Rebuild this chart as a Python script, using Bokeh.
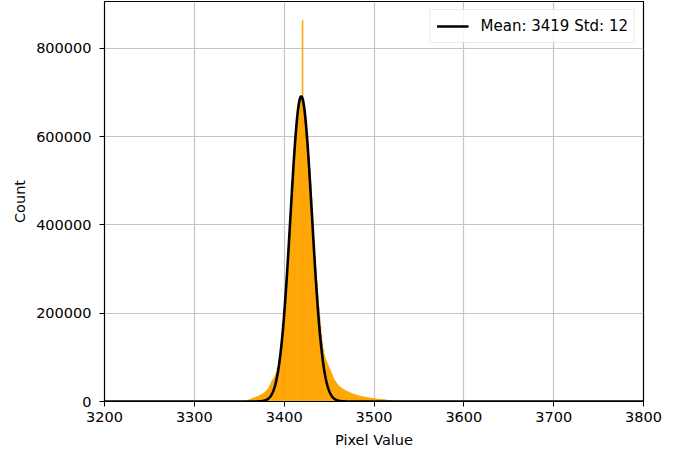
import numpy as np
from bokeh.plotting import figure
from bokeh.models import Range1d, FixedTicker, BasicTickFormatter, Legend, LegendItem, ColumnDataSource
from bokeh.embed import file_html
from bokeh.resources import INLINE

# Histogram (integer pixel-value bins, starting at bin_start)
bin_start = 3354
counts = [
    200, 400, 800, 1300, 1900, 2600, 3400, 4200, 5000, 5800,          # 3354-3363
    6600, 7400, 8200, 9000, 9800, 10600, 11400, 12200, 13000, 14000,  # 3364-3373
    15000, 16200, 17500, 19000, 20700, 22500, 24500, 27000, 30000, 34000,  # 3374-3383
    38000, 42000, 46000, 49000, 52000, 56000, 61000, 67000, 75000, 84000,  # 3384-3393
    95000, 108000, 123000, 140000, 159000, 180000, 203000, 228000, 256000, 285000,  # 3394-3403
    316000, 349000, 383000, 417000, 452000, 486000, 519000, 551000, 580000, 607000,  # 3404-3413
    631000, 651000, 667000, 679000, 686000, 691000, 863000, 683000, 671000, 656000,  # 3414-3423
    636000, 613000, 587000, 558000, 527000, 495000, 462000, 428000, 394000, 361000,  # 3424-3433
    329000, 298000, 269000, 241000, 215000, 192000, 170000, 151000, 134000, 119000,  # 3434-3443
    107000, 100000, 94000, 89000, 84000, 79000, 75000, 70000, 65000, 60000,  # 3444-3453
    55000, 50000, 47000, 44000, 41000, 38500, 36000, 34000, 32000, 30500,  # 3454-3463
    29000, 27800, 26600, 25500, 24400, 23400, 22400, 21400, 20500, 19600,  # 3464-3473
    18800, 18000, 17200, 16500, 15800, 15100, 14500, 13900, 13300, 12800,  # 3474-3483
    12300, 11800, 11300, 10800, 10400, 10000, 9600, 9200, 8800, 8400,  # 3484-3493
    8100, 7800, 7500, 7200, 6900, 6600, 6300, 6100, 5800, 5600,  # 3494-3503
    5400, 5200, 5000, 4800, 4600, 4400, 4200, 4000, 3700, 3400,  # 3504-3513
    3100, 2800, 2500, 2200, 1900, 1600, 1300, 1000, 800, 600,  # 3514-3523
    450, 300, 200, 100,  # 3524-3527
]

# Gaussian fit parameters (from legend) and fitted peak height
fit_mean = 3419
fit_std = 12
fit_peak = 691000

x_ticks = [3200, 3300, 3400, 3500, 3600, 3700, 3800]
y_ticks = [0, 200000, 400000, 600000, 800000]

left = np.arange(bin_start, bin_start + len(counts))
src = ColumnDataSource(dict(left=left, right=left + 1, top=counts, bottom=[0] * len(counts)))

xs = np.linspace(3200, 3800, 2401)
ys = fit_peak * np.exp(-((xs - fit_mean) ** 2) / (2 * fit_std ** 2))

p = figure(width=680, height=450, output_backend="svg", toolbar_location=None,
           x_range=Range1d(3200, 3800), y_range=Range1d(0, 906000),
           min_border_left=104, min_border_right=37, min_border_top=1, min_border_bottom=48)

p.quad(left="left", right="right", top="top", bottom="bottom", source=src,
       fill_color="#FFA500", line_color="#FFA500", line_width=0.6)
r_line = p.line(xs, ys, line_color="black", line_width=2.6)

font = "DejaVu Sans"
for ax in (p.xaxis[0], p.yaxis[0]):
    ax.major_label_text_font = font
    ax.major_label_text_font_size = "14.5px"
    ax.major_label_text_color = "black"
    ax.axis_label_text_font = font
    ax.axis_label_text_font_size = "14.5px"
    ax.axis_label_text_font_style = "normal"
    ax.axis_label_text_color = "black"
    ax.axis_line_color = "black"
    ax.major_tick_line_color = "black"
    ax.major_tick_out = 5
    ax.major_tick_in = 0
    ax.minor_tick_line_color = None

p.xaxis.major_label_standoff = 5
p.xaxis.axis_label_standoff = 7
p.yaxis.major_label_standoff = 8
p.yaxis.axis_label_standoff = 5

p.xaxis.ticker = FixedTicker(ticks=x_ticks)
p.yaxis.ticker = FixedTicker(ticks=y_ticks)
p.yaxis.formatter = BasicTickFormatter(use_scientific=False)
p.xaxis.axis_label = "Pixel Value"
p.yaxis.axis_label = "Count"

p.xgrid.ticker = FixedTicker(ticks=x_ticks)
p.ygrid.ticker = FixedTicker(ticks=y_ticks)
p.grid.grid_line_color = "#c4c4c4"
p.grid.grid_line_width = 1.2
p.outline_line_color = "black"
p.outline_line_width = 1.2
p.background_fill_color = "white"
p.border_fill_color = "white"

legend = Legend(items=[LegendItem(label="Mean: 3419 Std: 12", renderers=[r_line])],
                location="top_right")
legend.label_text_font = font
legend.label_text_font_size = "15px"
legend.label_text_color = "black"
legend.border_line_color = "#d6d6d6"
legend.border_line_width = 1
legend.background_fill_alpha = 0.85
legend.glyph_width = 32
legend.label_standoff = 12
legend.padding = 6
legend.margin = 8
legend.spacing = 0
p.add_layout(legend)

open("out.html", "w").write(file_html(p, INLINE))
